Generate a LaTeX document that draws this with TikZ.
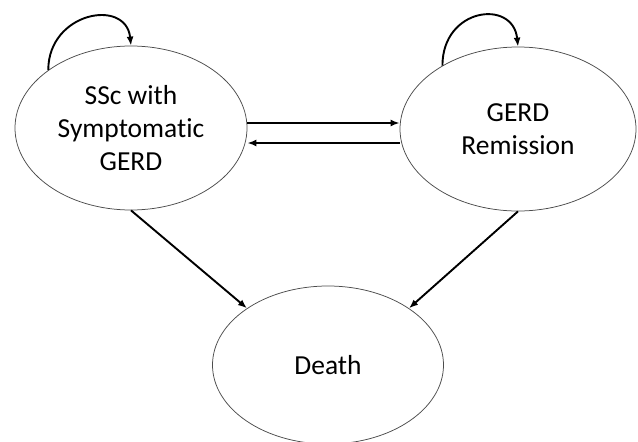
\documentclass[tikz,border=0pt]{standalone}
\usepackage{fontspec}
\setmainfont[Ligatures=NoCommon]{Carlito}
\usetikzlibrary{shapes.geometric,arrows.meta}

\begin{document}
\begin{tikzpicture}[
  x=1pt, y=-1pt, font=\fontsize{27.5}{33}\selectfont, >={Latex[length=9pt,width=7pt]},
  state/.style={ellipse,draw=black!70,line width=0.75pt,fill=white,align=center,inner sep=0pt},
  arr/.style={->,draw=black,line width=1.9pt}]
\useasboundingbox (0,0) rectangle (638,442);
\node[state, minimum width=232pt, minimum height=164pt] (ssc) at (131,128) {SSc with\\Symptomatic\\GERD};
\node[state, minimum width=236pt, minimum height=164pt] (rem) at (518,129) {GERD\\Remission};
\node[state, minimum width=231pt, minimum height=158pt] (death) at (328,365) {Death};
\draw[arr] ([yshift=5pt]ssc.east) -- ([yshift=5pt]ssc.east -| rem.west);
\draw[arr] ([yshift=-14pt]rem.west) -- ([yshift=-14pt]rem.west -| ssc.east);
\draw[arr] (ssc.south) -- (death.145);
\draw[arr] (rem.south) -- (death.35);
\draw[arr] (ssc.145) .. controls +(0,-58) and +(-5,-48) .. (ssc.north);
\draw[arr] (rem.140) .. controls +(0,-58) and +(-5,-48) .. (rem.north);
\end{tikzpicture}
\end{document}
